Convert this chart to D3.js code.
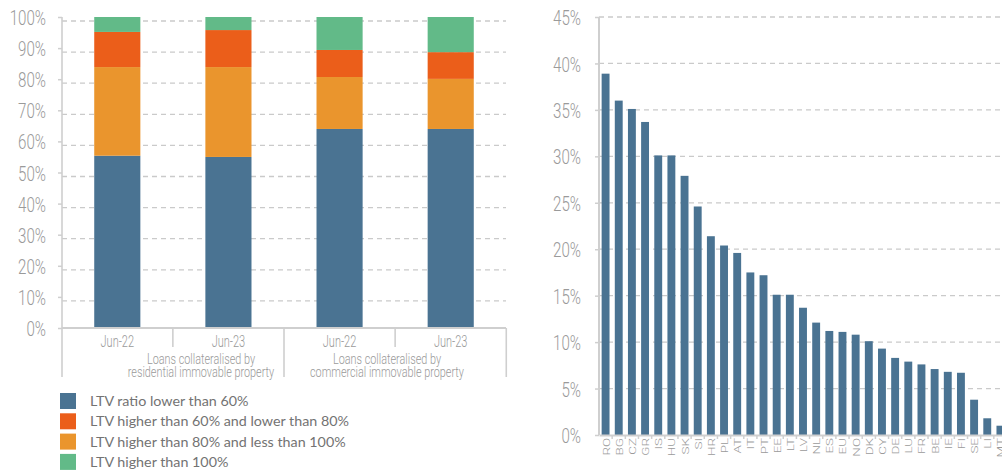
<!DOCTYPE html>
<html>
<head>
<meta charset="utf-8">
<script src="https://cdn.jsdelivr.net/npm/d3@7"></script>
<style>
  body { margin: 0; background: #fff; }
  svg { display: block; }
  .cond { font-family: Roboto, "Liberation Sans", sans-serif; font-weight: 300; fill: #9a9a9a; }
  .legend text { font-family: Lato, "Open Sans", sans-serif; font-size: 14.3px; fill: #737373; }
</style>
</head>
<body>
<svg id="svg" width="1002" height="473"></svg>
<script>
/* global d3: false */

// left panel: LTV distribution, stacked shares
const ltvBars = ['res-Jun-22', 'res-Jun-23', 'com-Jun-22', 'com-Jun-23'];
const ltvBarLabels = ['Jun-22', 'Jun-23', 'Jun-22', 'Jun-23'];
const ltvGroups = [
  ['Loans collateralised by', 'residential immovable property'],
  ['Loans collateralised by', 'commercial immovable property'],
];
const below60 = [0.554, 0.550, 0.640, 0.640];
const from80to100 = [0.285, 0.289, 0.167, 0.161];
const from60to80 = [0.113, 0.119, 0.087, 0.086];
const above100 = [0.048, 0.042, 0.106, 0.113];
const leftTicks = [0, 0.1, 0.2, 0.3, 0.4, 0.5, 0.6, 0.7, 0.8, 0.9, 1];

const legendLabels = [
  'LTV ratio lower than 60%',
  'LTV higher than 60% and lower than 80%',
  'LTV higher than 80% and less than 100%',
  'LTV higher than 100%',
];

// right panel: by country
const countries = [
  'RO', 'BG', 'CZ', 'GR', 'IS', 'HU', 'SK', 'SI', 'HR', 'PL', 'AT', 'IT', 'PT',
  'EE', 'LT', 'LV', 'NL', 'ES', 'EU', 'NO', 'DK', 'CY', 'DE', 'LU', 'FR', 'BE',
  'IE', 'FI', 'SE', 'LI', 'MT'];
const countryValues = [
  0.389, 0.360, 0.351, 0.337, 0.301, 0.301, 0.279, 0.246, 0.214, 0.204, 0.196,
  0.175, 0.172, 0.151, 0.151, 0.137, 0.121, 0.112, 0.111, 0.108, 0.101, 0.093,
  0.083, 0.079, 0.076, 0.071, 0.068, 0.067, 0.038, 0.018, 0.010];
const rightTicks = [0, 0.05, 0.1, 0.15, 0.2, 0.25, 0.3, 0.35, 0.4, 0.45];

const blue = '#4a7392';
const red = '#eb5e1a';
const orange = '#ea952d';
const green = '#62ba88';
const axisGrey = '#cfcfcf';
const gridGrey = '#cacaca';
const squeeze = 0.72; // narrow the tick type, the source font is a condensed one

const svg = d3.select('#svg');
const pct = d3.format('.0%');

function squeezeText(sel, sx) {
  sel.each(function () {
    const t = d3.select(this);
    const x = +t.attr('x') || 0;
    const y = +t.attr('y') || 0;
    t.attr('x', 0).attr('y', 0)
      .attr('transform', `translate(${x},${y}) scale(${sx},1)`);
  });
}

// ---------- left chart ----------
const left = { x0: 62, x1: 506, y0: 328, y1: 17 };

const xL = d3.scaleBand()
  .domain(ltvBars)
  .range([left.x0, left.x1])
  .paddingInner(0.585)
  .paddingOuter(0.29);

const yL = d3.scaleLinear().domain([0, 1]).range([left.y0, left.y1]);

// the source draws its grid a few pixels under the labels
svg.append('g')
  .attr('transform', 'translate(0,4)')
  .selectAll('line')
  .data(leftTicks.filter(d => d > 0))
  .enter()
  .append('line')
  .attr('x1', left.x0)
  .attr('x2', left.x1)
  .attr('y1', d => yL(d))
  .attr('y2', d => yL(d))
  .attr('stroke', gridGrey)
  .attr('stroke-width', 1.3)
  .attr('stroke-dasharray', '5,4');

const stackRows = ltvBars.map((id, i) => ({
  id,
  below60: below60[i],
  from80to100: from80to100[i],
  from60to80: from60to80[i],
  above100: above100[i],
}));
const stackKeys = ['below60', 'from80to100', 'from60to80', 'above100'];
const stackColors = { below60: blue, from80to100: orange, from60to80: red, above100: green };
const series = d3.stack().keys(stackKeys)(stackRows);

svg.append('g')
  .selectAll('g')
  .data(series)
  .enter()
  .append('g')
  .attr('fill', d => stackColors[d.key])
  .selectAll('rect')
  .data(d => d)
  .enter()
  .append('rect')
  .attr('x', d => xL(d.data.id))
  .attr('width', xL.bandwidth())
  .attr('y', d => yL(d[1]))
  .attr('height', d => yL(d[0]) - yL(d[1]));

const yAxisL = svg.append('g')
  .attr('transform', `translate(${left.x0},0)`)
  .call(d3.axisLeft(yL).tickValues(leftTicks).tickFormat(pct).tickSize(4).tickPadding(12));
yAxisL.select('.domain').remove();
yAxisL.selectAll('.tick line').attr('stroke', axisGrey).attr('stroke-width', 1.5);
yAxisL.selectAll('.tick text')
  .attr('class', 'cond')
  .attr('font-size', 21)
  .attr('dy', '0.36em')
  .call(squeezeText, squeeze);

// axis frame
const step = xL.step();
const centers = ltvBars.map(d => xL(d) + xL.bandwidth() / 2);
svg.append('line')
  .attr('x1', left.x0).attr('x2', left.x0)
  .attr('y1', left.y1).attr('y2', left.y0 + 49)
  .attr('stroke', axisGrey).attr('stroke-width', 1.6);
svg.append('line')
  .attr('x1', left.x0).attr('x2', left.x1)
  .attr('y1', left.y0).attr('y2', left.y0)
  .attr('stroke', axisGrey).attr('stroke-width', 2);

const separators = centers.slice(1).map(c => c - step / 2).concat([centers[3] + step / 2]);
svg.append('g')
  .selectAll('line')
  .data(separators)
  .enter()
  .append('line')
  .attr('x1', d => d)
  .attr('x2', d => d)
  .attr('y1', left.y0)
  .attr('y2', (d, i) => left.y0 + (i % 2 === 0 ? 19 : 49))
  .attr('stroke', axisGrey)
  .attr('stroke-width', 1.6);

svg.append('g')
  .selectAll('text')
  .data(ltvBarLabels)
  .enter()
  .append('text')
  .attr('class', 'cond')
  .attr('font-size', 17)
  .attr('text-anchor', 'middle')
  .attr('x', (d, i) => centers[i])
  .attr('y', left.y0 + 19)
  .text(d => d)
  .call(squeezeText, squeeze * 0.9);

const groupAnchors = [201, 387];
ltvGroups.forEach((lines, g) => {
  lines.forEach((line, k) => {
    svg.append('text')
      .attr('class', 'cond')
      .attr('font-size', 15.5)
      .attr('text-anchor', 'middle')
      .attr('x', groupAnchors[g])
      .attr('y', left.y0 + 36 + k * 13)
      .text(line)
      .call(squeezeText, 0.7);
  });
});

// legend
const legendColors = [blue, red, orange, green];
const legend = svg.append('g')
  .attr('class', 'legend')
  .attr('transform', 'translate(60,393)');
const legendRow = legend.selectAll('g')
  .data(legendLabels)
  .enter()
  .append('g')
  .attr('transform', (d, i) => `translate(0,${i * 20.3})`);
legendRow.append('rect')
  .attr('width', 16)
  .attr('height', 16)
  .attr('fill', (d, i) => legendColors[i]);
legendRow.append('text')
  .attr('x', 30)
  .attr('y', 8)
  .attr('dy', '0.35em')
  .text(d => d);

// ---------- right chart ----------
const right = { x0: 599, x1: 1007, y0: 435, y1: 17 };

const xR = d3.scaleBand()
  .domain(countries)
  .range([right.x0, right.x1])
  .paddingInner(0.4)
  .paddingOuter(0.2);

const yR = d3.scaleLinear().domain([0, 0.45]).range([right.y0, right.y1]);

svg.append('g')
  .selectAll('line')
  .data(rightTicks.filter(d => d > 0))
  .enter()
  .append('line')
  .attr('x1', right.x0)
  .attr('x2', 1002)
  .attr('y1', d => yR(d))
  .attr('y2', d => yR(d))
  .attr('stroke', gridGrey)
  .attr('stroke-width', 1.3)
  .attr('stroke-dasharray', '5,4');

svg.append('g')
  .attr('fill', blue)
  .selectAll('rect')
  .data(countries)
  .enter()
  .append('rect')
  .attr('x', d => xR(d))
  .attr('width', xR.bandwidth())
  .attr('y', (d, i) => yR(countryValues[i]))
  .attr('height', (d, i) => yR(0) - yR(countryValues[i]));

const yAxisR = svg.append('g')
  .attr('transform', `translate(${right.x0},0)`)
  .call(d3.axisLeft(yR).tickValues(rightTicks).tickFormat(pct).tickSize(4).tickPadding(14));
yAxisR.select('.domain').remove();
yAxisR.selectAll('.tick line').attr('stroke', axisGrey).attr('stroke-width', 1.5);
yAxisR.selectAll('.tick text')
  .attr('class', 'cond')
  .attr('font-size', 21)
  .attr('dy', '0.36em')
  .call(squeezeText, squeeze);

svg.append('line')
  .attr('x1', right.x0).attr('x2', right.x0)
  .attr('y1', right.y1).attr('y2', right.y0)
  .attr('stroke', axisGrey).attr('stroke-width', 2);

const xAxisR = svg.append('g')
  .attr('transform', `translate(0,${right.y0})`)
  .call(d3.axisBottom(xR).tickSize(0).tickPadding(0));
xAxisR.select('.domain').attr('stroke', axisGrey).attr('stroke-width', 2);
xAxisR.selectAll('.tick')
  .append('line')
  .attr('x1', xR.step() / 2)
  .attr('x2', xR.step() / 2)
  .attr('y1', 0)
  .attr('y2', 4)
  .attr('stroke', axisGrey)
  .attr('stroke-width', 1.5);
xAxisR.selectAll('.tick text')
  .attr('class', 'cond')
  .attr('font-size', 12)
  .attr('font-weight', 400)
  .attr('text-anchor', 'end')
  .attr('x', 0)
  .attr('y', 0)
  .attr('dy', null)
  .attr('transform', 'translate(4,3) rotate(-90) scale(1.12,0.8)');
</script>
</body>
</html>
